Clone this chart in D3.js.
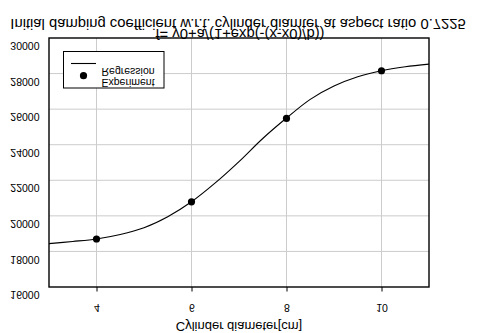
<!DOCTYPE html>
<html>
<head>
<meta charset="utf-8">
<script src="https://cdn.jsdelivr.net/npm/d3@7"></script>
<style>
    body { margin: 0; background: #fff; }
    text { font-family: "Liberation Sans", Arial, sans-serif; fill: #000; }
</style>
</head>
<body>
<div id="chart"></div>
<script>
// values
const yTicks = [16000, 18000, 20000, 22000, 24000, 26000, 28000, 30000];
const xTicks = [4, 6, 8, 10];

// experiment points
const expX = [4, 6, 8, 10];
const expY = [18700, 20790, 25480, 28160];

// regression curve, every 0.5 cm
const fitX = [3, 3.5, 4, 4.5, 5, 5.5, 6, 6.5, 7, 7.5, 8, 8.5, 9, 9.5, 10, 10.5, 11];
const fitY = [18440, 18560, 18700, 18950, 19330, 19950, 20790, 21850, 23050, 24350,
    25500, 26550, 27300, 27820, 28160, 28380, 28530];

const titleLines = ["Initial damping coefficient w.r.t. cylinder diamter at  aspect ratio 0.7225",
    "f= y0+a/(1+exp(-(x-x0)/b))"];
const legendLabels = ["Regression", "Experiment"];

let W = 477, H = 333;
let margin = {top: 38, right: 48, bottom: 46, left: 49};
let width = W - margin.left - margin.right;
let height = H - margin.top - margin.bottom;

let svg = d3.select("#chart").append("svg")
    .attr("width", W)
    .attr("height", H);

// the text in the source is drawn upside down on its own baseline
function flip(sel, x, y) {
    sel.attr("x", 0).attr("y", 0).attr("dy", null)
        .attr("transform", `translate(${x},${y}) scale(1,-1)`);
}

let g = svg.append("g")
    .attr("transform", `translate(${margin.left},${margin.top})`);

let x = d3.scaleLinear().domain([3, 11]).range([0, width]);
let y = d3.scaleLinear().domain([16000, 30000]).range([height, 0]);

// grid
g.append("g").selectAll("line").data(yTicks.slice(1, -1))
    .enter().append("line")
    .attr("x1", 0).attr("x2", width)
    .attr("y1", d => y(d)).attr("y2", d => y(d))
    .attr("stroke", "#cccccc");
g.append("g").selectAll("line").data(xTicks)
    .enter().append("line")
    .attr("y1", 0).attr("y2", height)
    .attr("x1", d => x(d)).attr("x2", d => x(d))
    .attr("stroke", "#cccccc");

// axes
let yAxisGroup = g.append("g")
    .call(d3.axisLeft(y).tickValues(yTicks).tickSize(0).tickFormat(d3.format("d")));
yAxisGroup.select(".domain").remove();
yAxisGroup.selectAll("text")
    .style("font-size", "10.5px")
    .each(function () { flip(d3.select(this), -9.5, 3.6); });

let xAxisGroup = g.append("g")
    .attr("transform", `translate(0,${height})`)
    .call(d3.axisBottom(x).tickValues(xTicks).tickSize(4.5));
xAxisGroup.select(".domain").remove();
xAxisGroup.selectAll("line").attr("stroke", "#000");
xAxisGroup.selectAll("text")
    .style("font-size", "10.5px")
    .each(function () { flip(d3.select(this), 0, 16.5); });

// frame
g.append("rect")
    .attr("width", width).attr("height", height)
    .attr("fill", "none").attr("stroke", "#000").attr("stroke-width", 1.4);

// regression line
g.append("clipPath").attr("id", "clip")
    .append("rect").attr("width", width).attr("height", height);
let line = d3.line()
    .x(d => x(d[0]))
    .y(d => y(d[1]))
    .curve(d3.curveCatmullRom);
g.append("path")
    .datum(fitX.map((v, i) => [v, fitY[i]]))
    .attr("clip-path", "url(#clip)")
    .attr("d", line)
    .attr("fill", "none")
    .attr("stroke", "#000")
    .attr("stroke-width", 1.1);

// experiment points
g.selectAll("circle.pt").data(expX.map((v, i) => [v, expY[i]]))
    .enter().append("circle")
    .attr("class", "pt")
    .attr("cx", d => x(d[0]))
    .attr("cy", d => y(d[1]))
    .attr("r", 3.6)
    .attr("fill", "#000");

// legend
let legend = svg.append("g").attr("transform", "translate(63.5,51.5)");
legend.append("rect")
    .attr("width", 100.5).attr("height", 36.5)
    .attr("fill", "#fff").attr("stroke", "#000").attr("stroke-width", 1);
legend.append("line")
    .attr("x1", 7.5).attr("x2", 32.5).attr("y1", 12).attr("y2", 12)
    .attr("stroke", "#000").attr("stroke-width", 1.1);
legend.append("circle")
    .attr("cx", 20).attr("cy", 24.2).attr("r", 3.6).attr("fill", "#000");
legend.selectAll("text").data(legendLabels)
    .enter().append("text")
    .style("font-size", "10.5px")
    .text(d => d)
    .each(function (d, i) { flip(d3.select(this), 38, 16 + i * 11.5); });

// titles
svg.selectAll("text.title").data(titleLines)
    .enter().append("text")
    .attr("class", "title")
    .attr("text-anchor", "middle")
    .style("font-size", "14.8px")
    .text(d => d)
    .each(function (d, i) { flip(d3.select(this), i === 0 ? 238 : 240, i === 0 ? 18.6 : 29); });

// x axis title
let xt = svg.append("text")
    .attr("text-anchor", "middle")
    .style("font-size", "13px")
    .text("Cylinder diameter[cm]");
flip(xt, 239, 321.5);
</script>
</body>
</html>
